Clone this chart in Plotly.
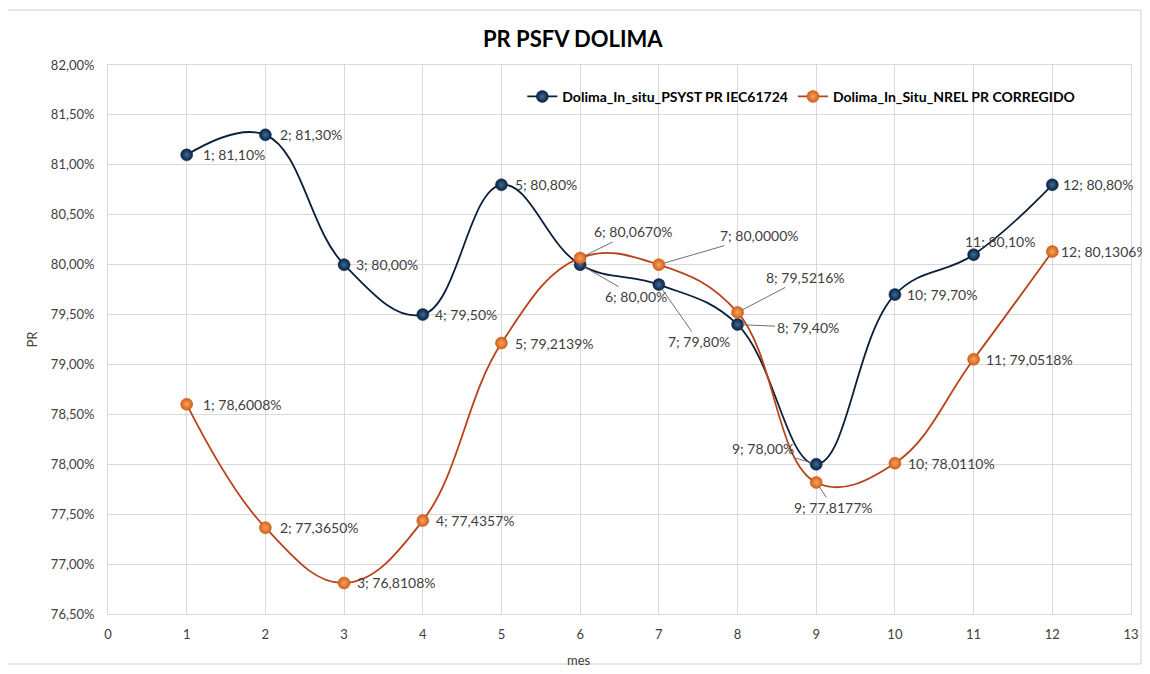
import plotly.graph_objects as go

meses = [1, 2, 3, 4, 5, 6, 7, 8, 9, 10, 11, 12]
psyst_pr = [81.10, 81.30, 80.00, 79.50, 80.80, 80.00, 79.80, 79.40, 78.00, 79.70, 80.10, 80.80]
nrel_pr = [78.6008, 77.3650, 76.8108, 77.4357, 79.2139, 80.0670, 80.0000, 79.5216,
           77.8177, 78.0110, 79.0518, 80.1306]

name_a = "Dolima_In_situ_PSYST PR IEC61724"
name_b = "Dolima_In_Situ_NREL PR CORREGIDO"

# label placement: (mode, dx, dy) pixels; mode 'r' = plain right label, 'l' = leader line
lab_a = [("r", 14, 0), ("r", 13, 0), ("r", 10, 0), ("r", 10, 0), ("r", 12, 0),
         ("l", 56, 32), ("l", 40, 57), ("l", 70, 3), ("l", -53, -16),
         ("r", 10, 0), ("r", -11, 13), ("r", 9, 0)]
lab_b = [("r", 14, 0), ("r", 13, 0), ("r", 11, 0), ("r", 11, 0), ("r", 12, 0),
         ("l", 53, -26), ("l", 100, -29), ("l", 67, -35), ("l", 17, 25),
         ("r", 11, 0), ("r", 10, 0), ("r", 7, 0)]

def fmt(v, d):
    return f"{v:.{d}f}".replace(".", ",") + "%"

fig = go.Figure()
fig.add_trace(go.Scatter(
    x=meses, y=[v / 100 for v in psyst_pr], name="<b>" + name_a + "</b>", mode="lines+markers",
    line=dict(color="#0b1f3a", width=1.8, shape="spline", smoothing=1.15),
    marker=dict(size=12, color="#0a2140", line=dict(color="#0a2140", width=0.5),
                gradient=dict(type="radial", color="#3d6d99")),
))
fig.add_trace(go.Scatter(
    x=meses, y=[v / 100 for v in nrel_pr], name="<b>" + name_b + "</b>", mode="lines+markers",
    line=dict(color="#b8431a", width=1.8, shape="spline", smoothing=1.15),
    marker=dict(size=12, color="#d4601a", line=dict(color="#c05312", width=0.5),
                gradient=dict(type="radial", color="#f7a35c")),
))

annots = []
for vals, labs, dec in ((psyst_pr, lab_a, 2), (nrel_pr, lab_b, 4)):
    for m, v, (mode, dx, dy) in zip(meses, vals, labs):
        txt = f"{m}; {fmt(v, dec)}"
        if mode == "r":
            annots.append(dict(x=m, y=v / 100, text=txt, showarrow=False,
                               xanchor="left", yanchor="middle", xshift=dx, yshift=dy,
                               font=dict(size=14, color="#404040", family="Lato")))
        else:
            annots.append(dict(x=m, y=v / 100, text=txt, showarrow=True,
                               arrowhead=0, arrowwidth=1, arrowcolor="#6f6f6f",
                               ax=dx, ay=dy, standoff=5,
                               font=dict(size=14, color="#404040", family="Lato")))

annots.append(dict(text="<b>PR PSFV DOLIMA</b>", xref="paper", yref="paper",
                   x=0.455, y=1.0, yshift=42, showarrow=False,
                   font=dict(size=22, color="#000000", family="Lato")))
annots.append(dict(text="mes", xref="paper", yref="paper", x=0.46, y=0.0,
                   yshift=-46, xanchor="center", yanchor="middle", showarrow=False,
                   font=dict(size=13, color="#404040", family="Lato")))

# page body has an 8px margin; figure is sized so the plot lands where the reference has it
fig.update_layout(
    width=1142, height=666,
    margin=dict(l=100, r=19, t=57, b=60),
    paper_bgcolor="white", plot_bgcolor="white",
    separators=",.",
    font=dict(family="Lato", color="#404040", size=13),
    showlegend=True,
    legend=dict(orientation="h", x=0.405, y=0.942, xanchor="left", yanchor="middle",
                bgcolor="rgba(0,0,0,0)", font=dict(size=14, color="#000000", family="Lato"),
                itemwidth=30),
    annotations=annots,
    shapes=[dict(type="rect", xref="paper", yref="paper",
                 x0=(7 - 108) / 1023, x1=(1141 - 108) / 1023,
                 y0=-(664 - 614) / 549, y1=1 + (65 - 10) / 549,
                 line=dict(color="#d0d0d0", width=1), layer="below")],
)
fig.update_xaxes(range=[0, 13], dtick=1, tick0=0, showgrid=True, gridcolor="#d9d9d9",
                 showline=True, linecolor="#d9d9d9", mirror=True, zeroline=False,
                 automargin=False,
                 ticks="", ticklabelstandoff=8, tickfont=dict(size=13, color="#404040"))
fig.update_yaxes(range=[0.765, 0.82], dtick=0.005, tick0=0.765, tickformat=".2%",
                 showgrid=True, gridcolor="#d9d9d9", showline=True, linecolor="#d9d9d9",
                 mirror=True, zeroline=False, automargin=False,
                 ticks="", ticklabelstandoff=10,
                 tickfont=dict(size=13, color="#404040"),
                 title=dict(text="PR", font=dict(size=13, color="#404040"), standoff=10))

fig.write_html("out.html")
